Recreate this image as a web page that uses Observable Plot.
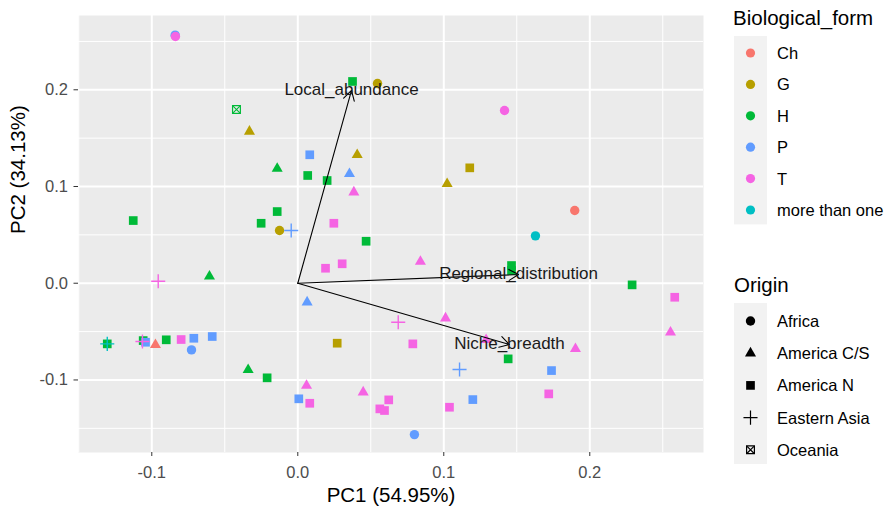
<!DOCTYPE html>
<html><head><meta charset="utf-8">
<script src="https://cdn.jsdelivr.net/npm/d3@7"></script>
<script src="https://cdn.jsdelivr.net/npm/@observablehq/plot@0.6"></script>
<style>body{margin:0;background:#fff;} #chart{width:890px;height:508px;}</style>
</head><body><div id="chart"></div>
<script>
const pc1 = [-0.0840,-0.0838,-0.0420,-0.0331,-0.0141,0.0375,0.0546,0.1416,0.0082,0.0407,0.1178,0.0354,0.0068,0.0201,0.1023,0.0384,-0.1127,-0.0141,-0.0251,-0.0125,-0.0045,0.0247,0.0468,0.0840,0.0304,0.0190,-0.0605,-0.0956,0.0064,0.1897,0.1628,0.1464,0.1464,0.2290,0.2582,0.2553,0.1902,0.1738,0.1719,0.1441,0.1290,0.1012,0.0688,0.0270,0.0788,0.1108,0.0060,0.0007,0.0082,0.0448,0.0562,0.0623,0.0594,0.1039,0.1199,0.0799,-0.1305,-0.1305,-0.1059,-0.1064,-0.1043,-0.0975,-0.0901,-0.0799,-0.0712,-0.0728,-0.0586,-0.0340,-0.0210];
const pc2 = [0.2565,0.2551,0.1796,0.1569,0.1186,0.2086,0.2065,0.1786,0.1328,0.1328,0.1193,0.1131,0.1114,0.1062,0.1028,0.0941,0.0648,0.0741,0.0620,0.0545,0.0545,0.0620,0.0434,0.0224,0.0201,0.0155,0.0072,0.0021,-0.0196,0.0752,0.0490,0.0183,0.0131,-0.0017,-0.0145,-0.0507,-0.0678,-0.0903,-0.1144,-0.0782,-0.0585,-0.0362,-0.0403,-0.0620,-0.0627,-0.0892,-0.1058,-0.1195,-0.1241,-0.1127,-0.1299,-0.1206,-0.1316,-0.1282,-0.1203,-0.1565,-0.0627,-0.0627,-0.0593,-0.0603,-0.0610,-0.0637,-0.0585,-0.0582,-0.0569,-0.0689,-0.0551,-0.0896,-0.0978];
const form = ["P","T","H","G","H","H","G","T","P","G","G","P","H","H","G","T","H","H","H","G","P","T","H","T","T","T","H","T","P","Ch","more than one","H","H","H","T","T","T","P","T","H","T","T","T","G","T","P","T","P","T","T","T","T","T","T","P","P","H","more than one","H","T","P","Ch","H","T","P","P","P","H","H"];
const origin = ["Africa","Africa","Oceania","America C/S","America C/S","America N","Africa","Africa","America N","America C/S","America N","America C/S","America N","America N","America C/S","America C/S","America N","America N","America N","Africa","Eastern Asia","America N","America N","America C/S","America N","America N","America C/S","Eastern Asia","America C/S","Africa","Africa","America N","America N","America N","America N","America C/S","America C/S","America N","America N","America N","America C/S","America C/S","Eastern Asia","America N","America N","Eastern Asia","America C/S","America N","America N","America C/S","America N","America N","America N","America N","America N","Africa","America N","Eastern Asia","America N","Eastern Asia","America N","America C/S","America N","America N","America N","Africa","America N","America C/S","America N"];

const formLevels = ["Ch","G","H","P","T","more than one"];
const formColors = ["#F8766D","#B79F00","#00BA38","#619CFF","#F564E3","#00BFC4"];
const originLevels = ["Africa","America C/S","America N","Eastern Asia","Oceania"];

const loadingVars = ["Local_abundance","Regional_distribution","Niche_breadth"];
const loadingPC1 = [0.0368, 0.1512, 0.1450];
const loadingPC2 = [0.1993, 0.0090, -0.0634];

const xTicks = [-0.1, 0, 0.1, 0.2];
const yTicks = [-0.1, 0, 0.1, 0.2];
const minorTicks = [-0.15, -0.05, 0.05, 0.15, 0.25];

const FONT = "'Liberation Sans', Arial, sans-serif";
const data = pc1.map((x, i) => ({x, y: pc2[i], form: form[i], origin: origin[i]}));
const loadings = loadingVars.map((v, i) => ({v, x: loadingPC1[i], y: loadingPC2[i]}));
const sub = o => data.filter(d => d.origin === o);

const fmt = d => d.toFixed(1);

const plot = Plot.plot({
  width: 890, height: 508,
  marginLeft: 78, marginRight: 187, marginTop: 15, marginBottom: 56,
  style: {fontFamily: FONT, background: "#fff", overflow: "visible"},
  x: {domain: [-0.1502, 0.2779]},
  y: {domain: [-0.175, 0.2768]},
  color: {domain: formLevels, range: formColors},
  marks: [
    Plot.frame({fill: "#EBEBEB", stroke: null}),
    Plot.ruleX(minorTicks, {stroke: "#fff", strokeWidth: 1}),
    Plot.ruleY(minorTicks, {stroke: "#fff", strokeWidth: 1}),
    Plot.ruleX(xTicks, {stroke: "#fff", strokeWidth: 2}),
    Plot.ruleY(yTicks, {stroke: "#fff", strokeWidth: 2}),
    Plot.axisX(xTicks, {tickFormat: fmt, tickSize: 4, tickPadding: 10, fontSize: 16.5, stroke: "#333", fill: "#4D4D4D", label: null}),
    Plot.axisY(yTicks, {tickFormat: fmt, tickSize: 4.5, tickPadding: 6, fontSize: 16.5, stroke: "#333", fill: "#4D4D4D", label: null}),
    Plot.text(["PC1 (54.95%)"], {frameAnchor: "bottom", dy: 43, text: d => d, fontSize: 20.5, fill: "#000", lineAnchor: "middle"}),
    Plot.text(["PC2 (34.13%)"], {frameAnchor: "left", dx: -60, rotate: -90, text: d => d, fontSize: 20.5, fill: "#000", lineAnchor: "middle"}),
    Plot.dot(sub("Africa"), {x: "x", y: "y", fill: "form", symbol: "circle", r: 4.7, stroke: null}),
    Plot.dot(sub("America C/S"), {x: "x", y: "y", fill: "form", symbol: "triangle", r: 4.1, stroke: null}),
    Plot.dot(sub("America N"), {x: "x", y: "y", fill: "form", symbol: "square", r: 4.9, stroke: null}),
    Plot.dot(sub("Eastern Asia"), {x: "x", y: "y", stroke: "form", fill: "none", symbol: "plus", r: 4.6, strokeWidth: 1.4}),
    Plot.dot(sub("Oceania"), {x: "x", y: "y", stroke: "form", fill: "none", symbol: "square", r: 4.4, strokeWidth: 1.2}),
    Plot.dot(sub("Oceania"), {x: "x", y: "y", stroke: "form", fill: "none", symbol: "times", r: 3.2, strokeWidth: 1.1}),
    Plot.arrow(loadings, {x1: () => 0, y1: () => 0, x2: "x", y2: "y", stroke: "#000", strokeWidth: 1.1, headLength: 15, headAngle: 60}),
    Plot.text(loadings, {x: "x", y: "y", text: "v", fontSize: 17, fill: "#1a1a1a", lineAnchor: "middle", dy: -1})
  ]
});
document.getElementById("chart").appendChild(plot);

// Legends (right side)
const svg = d3.select(plot);
const g = svg.append("g").attr("font-family", FONT).attr("text-anchor", "start");
function sym(type, r) { return d3.symbol(type, Math.PI * r * r)(); }

// Biological_form legend
g.append("text").attr("x", 733).attr("y", 25).attr("font-size", 20.5).attr("fill", "#000").text("Biological_form");
const k1top = 36, k1h = 31.4;
g.append("rect").attr("x", 734).attr("y", k1top).attr("width", 33).attr("height", k1h * formLevels.length).attr("fill", "#F2F2F2");
formLevels.forEach((f, i) => {
  const cy = k1top + 17 + i * k1h;
  g.append("circle").attr("cx", 750.5).attr("cy", cy).attr("r", 4.6).attr("fill", formColors[i]);
  g.append("text").attr("x", 777).attr("y", cy).attr("dy", "0.36em").attr("font-size", 16.5).attr("fill", "#000").text(f);
});

// Origin legend
g.append("text").attr("x", 734).attr("y", 292).attr("font-size", 20.5).attr("fill", "#000").text("Origin");
const k2top = 303, k2h = 32.2;
g.append("rect").attr("x", 734).attr("y", k2top).attr("width", 33).attr("height", k2h * originLevels.length).attr("fill", "#F2F2F2");
const legSyms = [
  [[d3.symbolCircle, 4.7, "fill"]],
  [[d3.symbolTriangle, 4.1, "fill"]],
  [[d3.symbolSquare, 4.9, "fill"]],
  [[d3.symbolPlus, 4.6, "stroke"]],
  [[d3.symbolSquare, 4.4, "stroke"], [d3.symbolTimes, 3.2, "stroke"]]
];
originLevels.forEach((o, i) => {
  const cy = k2top + 18 + i * k2h;
  legSyms[i].forEach(([t, r, mode]) => {
    const p = g.append("path").attr("d", sym(t, r)).attr("transform", `translate(750.5,${cy})`);
    if (mode === "fill") p.attr("fill", "#000");
    else p.attr("fill", "none").attr("stroke", "#000").attr("stroke-width", 1.2);
  });
  g.append("text").attr("x", 777).attr("y", cy).attr("dy", "0.36em").attr("font-size", 16.5).attr("fill", "#000").text(o);
});
</script>
</body></html>
